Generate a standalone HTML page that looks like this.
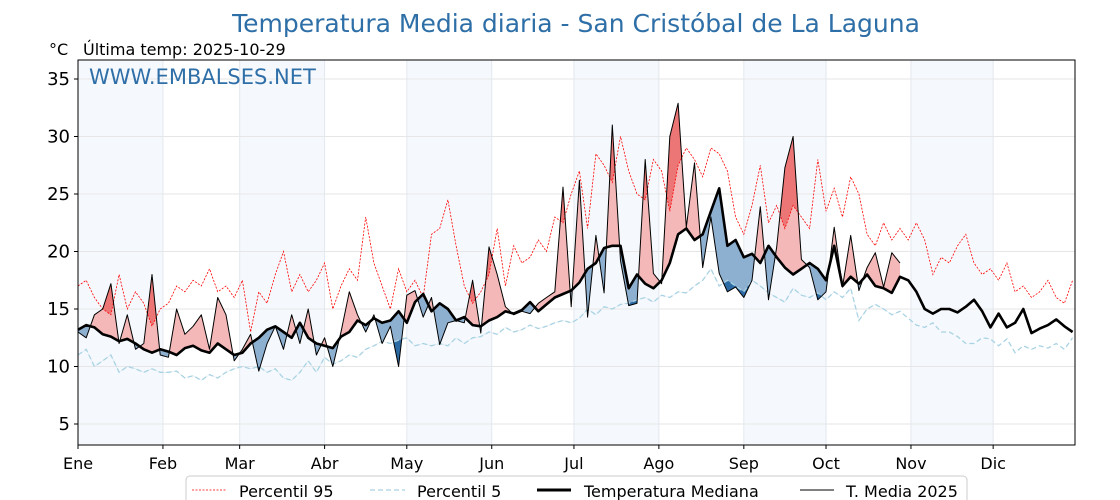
<!DOCTYPE html>
<html><head><meta charset="utf-8"><style>
body{margin:0;background:#fff;font-family:"Liberation Sans","DejaVu Sans",sans-serif}
svg{display:block}
</style></head><body>
<svg id="chart" width="1120" height="500" xmlns="http://www.w3.org/2000/svg">
<text x="576" y="32" text-anchor="middle" font-size="25" fill="#2e6fa7" font-family="DejaVu Sans, Liberation Sans, sans-serif">Temperatura Media diaria - San Cristóbal de La Laguna</text>
<text x="49" y="55" font-size="16" fill="#000" font-family="DejaVu Sans, Liberation Sans, sans-serif">°C</text>
<text x="83" y="55" font-size="16" fill="#000" font-family="DejaVu Sans, Liberation Sans, sans-serif">Última temp: 2025-10-29</text>
<g id="bg"></g><g id="grid"></g><defs id="defs"></defs><g id="fills"></g><g id="lines"></g>
<rect x="78" y="60" width="997" height="385" fill="none" stroke="#000" stroke-width="1"/>
<text x="89" y="84" font-size="21" fill="#2f6fa8" font-family="DejaVu Sans, Liberation Sans, sans-serif">WWW.EMBALSES.NET</text>
<g id="axes" font-family="DejaVu Sans, Liberation Sans, sans-serif"></g>
<g font-family="DejaVu Sans, Liberation Sans, sans-serif">
<rect x="186" y="476" width="781" height="34" rx="4" fill="#fff" stroke="#ccc"/>
<line x1="192" y1="490" x2="226" y2="490" stroke="red" stroke-width="0.8" stroke-dasharray="2,1.5"/>
<text x="239" y="497" font-size="16">Percentil 95</text>
<line x1="370" y1="490" x2="405" y2="490" stroke="#a9d3e3" stroke-width="1.3" stroke-dasharray="5,3"/>
<text x="417" y="497" font-size="16">Percentil 5</text>
<line x1="537" y1="490" x2="571" y2="490" stroke="#000" stroke-width="3"/>
<text x="584" y="497" font-size="16">Temperatura Mediana</text>
<line x1="800" y1="490" x2="834" y2="490" stroke="#000" stroke-width="1"/>
<text x="846" y="497" font-size="16">T. Media 2025</text>
</g>
</svg>
<script>
const STEP = 3;
const months = ["Ene","Feb","Mar","Abr","May","Jun","Jul","Ago","Sep","Oct","Nov","Dic"];
const monthStart = [0,31,59,90,120,151,181,212,243,273,304,334];
const yTicks = [5,10,15,20,25,30,35];
const median = [13.2,13.6,13.4,12.8,12.6,12.2,12.4,12.0,11.5,11.2,11.5,
11.3,11.0,11.6,11.8,11.4,11.2,12.0,11.5,11.0,
11.2,12.0,12.5,13.2,13.5,13.0,12.5,13.8,12.5,12.0,
11.8,11.6,12.6,13.0,14.0,13.6,14.2,13.8,14.0,14.8,
13.8,15.6,16.3,14.8,15.5,15.0,14.0,14.3,13.6,13.5,
14.0,14.3,14.8,14.6,14.9,15.6,14.8,15.4,16.0,16.3,
16.6,17.3,18.5,19.0,20.3,20.5,20.5,16.8,18.0,17.2,
16.8,17.5,19.0,21.5,22.0,21.0,21.5,23.5,25.5,20.5,
21.0,19.5,19.8,19.0,20.5,19.5,18.6,18.0,18.5,19.0,
18.5,17.5,20.5,17.0,17.8,17.2,18.0,17.0,16.8,16.4,17.8,17.5,
16.5,15.0,14.6,15.0,15.0,14.7,15.2,15.8,14.8,13.4,
14.6,13.4,13.8,15.0,12.9,13.3,13.6,14.1,13.5,13.0];
const p95 = [17.0,17.5,16.0,15.0,14.5,18.0,15.0,16.5,15.5,13.5,15.0,
15.5,17.0,16.5,17.5,17.0,18.5,16.5,17.0,16.0,
17.5,13.0,16.5,15.5,18.0,20.0,16.5,18.0,16.5,17.5,
19.0,15.0,17.0,18.5,17.5,23.0,19.0,17.0,15.0,18.5,
16.5,17.5,16.0,21.5,22.0,24.5,20.5,17.0,15.5,16.5,
18.0,22.0,17.0,20.5,19.0,19.5,21.0,20.0,23.0,22.5,
25.0,27.0,22.0,28.5,27.5,26.0,30.0,27.0,25.0,24.5,
28.0,27.0,23.5,27.5,29.0,28.0,26.5,29.0,28.5,27.0,
23.0,21.5,24.0,27.5,22.5,24.0,22.0,24.0,23.0,22.0,
28.0,23.5,25.5,23.0,26.5,25.0,21.5,20.5,22.5,21.0,22.0,21.0,
22.5,21.0,18.0,19.5,19.0,20.5,21.5,19.0,18.0,18.5,
17.5,19.0,16.5,17.0,16.0,16.5,17.5,16.0,15.5,17.5];
const p5 = [11.0,11.5,10.0,10.5,11.0,9.5,10.0,9.8,9.5,9.8,9.5,
9.5,9.6,9.0,9.2,8.8,9.3,9.0,9.5,9.8,
10.0,9.8,10.0,9.5,9.8,9.0,8.8,9.5,10.5,9.5,
10.8,10.2,10.5,11.0,10.8,11.5,11.8,12.2,12.0,12.3,
12.5,11.8,12.0,11.8,12.0,11.8,12.5,12.0,12.5,12.6,
13.0,12.8,13.4,13.0,13.2,13.6,13.3,13.5,13.8,14.0,
13.8,14.2,15.0,14.5,15.2,15.0,15.4,15.5,15.8,16.0,
15.6,16.2,16.0,16.5,16.4,17.0,17.5,18.5,17.0,17.5,
17.0,16.5,17.5,17.0,16.4,16.0,15.6,16.8,16.2,16.0,
16.4,15.8,16.5,16.0,16.8,14.0,15.0,15.4,15.0,14.5,14.8,14.2,
13.6,13.4,13.8,13.0,13.0,12.6,12.0,12.0,12.5,12.4,
11.8,12.4,11.2,11.8,11.5,11.8,11.6,12.0,11.5,12.5];
const t2025 = [13.0,12.5,14.5,15.0,17.2,12.0,14.5,11.5,12.0,18.0,11.0,
10.8,15.0,12.8,13.5,14.5,11.5,16.0,14.5,10.5,
11.5,12.8,9.6,12.0,13.5,11.5,14.5,12.0,15.0,11.0,
12.5,10.0,13.0,16.5,14.5,13.0,14.5,12.0,13.5,10.0,
16.2,16.6,14.3,16.0,11.9,13.8,14.0,13.8,17.5,12.9,
20.4,18.0,15.2,14.5,14.8,14.6,15.5,16.0,16.5,25.6,
15.2,26.2,14.3,21.4,16.4,31.0,19.2,15.3,15.5,28.0,
18.1,17.2,30.0,32.9,22.1,27.7,18.6,23.0,18.1,16.5,
16.9,16.0,17.5,23.9,15.8,20.4,27.3,30.0,19.3,18.6,
15.8,16.5,22.1,16.9,21.4,16.6,18.6,19.9,16.9,19.9,19.0];

const X0=78,X1=1075,Y0=60,Y1=445;
const xs = d => X0 + d*2.74;
const ys = v => 424 - (v-5)*11.5;
const NS="http://www.w3.org/2000/svg";
function mk(tag,attrs,parent){const e=document.createElementNS(NS,tag);for(const k in attrs)e.setAttribute(k,attrs[k]);parent.appendChild(e);return e;}
const bg=document.getElementById('bg'),grid=document.getElementById('grid'),defs=document.getElementById('defs'),fills=document.getElementById('fills'),lines=document.getElementById('lines'),axes=document.getElementById('axes');
mk('rect',{x:X0,y:Y0,width:X1-X0,height:Y1-Y0,fill:'#fff'},bg);
for(let m=0;m<12;m+=2){
  const a=xs(monthStart[m]),b=xs(monthStart[m+1]);
  const r=mk('rect',{x:a,y:Y0,width:b-a,height:Y1-Y0,fill:'#f5f9fd'},bg);
  
  
}
yTicks.forEach(v=>{
  const l=mk('line',{x1:X0,x2:X1,y1:ys(v),y2:ys(v),stroke:'#e6e6e6','stroke-width':1},grid);
  
  
  mk('line',{x1:X0-4,x2:X0,y1:ys(v),y2:ys(v),stroke:'#000'},axes);
  const t=mk('text',{x:X0-8,y:ys(v)+6,'text-anchor':'end','font-size':18},axes);
  t.textContent=v;
  
  
});
monthStart.forEach((d,i)=>{
  const l=mk('line',{x1:xs(d),x2:xs(d),y1:Y0,y2:Y1,stroke:'#e3e8ee','stroke-width':1},grid);
  
  
  mk('line',{x1:xs(d),x2:xs(d),y1:Y1,y2:Y1+4,stroke:'#000'},axes);
  const t=mk('text',{x:xs(d),y:469,'text-anchor':'middle','font-size':16},axes);
  t.textContent=months[i];
  
  
});
const pts = arr => arr.map((v,i)=>[xs(i*STEP),ys(v)]);
const line = p => 'M'+p.map(q=>q[0].toFixed(1)+','+q[1].toFixed(1)).join('L');
const n=t2025.length;
const T=pts(t2025), M=pts(median.slice(0,n)), P95=pts(p95.slice(0,n)), P5=pts(p5.slice(0,n));
const band=(a,b)=>line(a)+'L'+b.slice().reverse().map(q=>q[0].toFixed(1)+','+q[1].toFixed(1)).join('L')+'Z';
function clip(id,ref,above){
  const c=mk('clipPath',{id:id},defs);
  const ey=above?Y0-50:Y1+50;
  mk('path',{d:line(ref)+`L${ref[ref.length-1][0]},${ey}L${ref[0][0]},${ey}Z`},c);
}
clip('abM',M,true);clip('beM',M,false);clip('abP95',P95,true);clip('beP5',P5,false);
const f1=mk('path',{d:band(T,M),fill:'#f4b8b8','clip-path':'url(#abM)'},fills);


const f2=mk('path',{d:band(T,M),fill:'#8eb0d0','clip-path':'url(#beM)'},fills);


const f3=mk('path',{d:band(T,P95),fill:'#ec7676','clip-path':'url(#abP95)'},fills);


const f4=mk('path',{d:band(T,P5),fill:'#2c6aa3','clip-path':'url(#beP5)'},fills);


const l95=mk('path',{d:line(pts(p95)),fill:'none',stroke:'red','stroke-width':0.8,'stroke-dasharray':'2,1.5'},lines);


const l5=mk('path',{d:line(pts(p5)),fill:'none',stroke:'#a9d3e3','stroke-width':1.3,'stroke-dasharray':'5,3'},lines);


const lm=mk('path',{d:line(pts(median)),fill:'none',stroke:'#000','stroke-width':2.6,'stroke-linejoin':'round'},lines);


const lt=mk('path',{d:line(T),fill:'none',stroke:'#000','stroke-width':1,'stroke-linejoin':'round'},lines);


</script>
</body></html>
